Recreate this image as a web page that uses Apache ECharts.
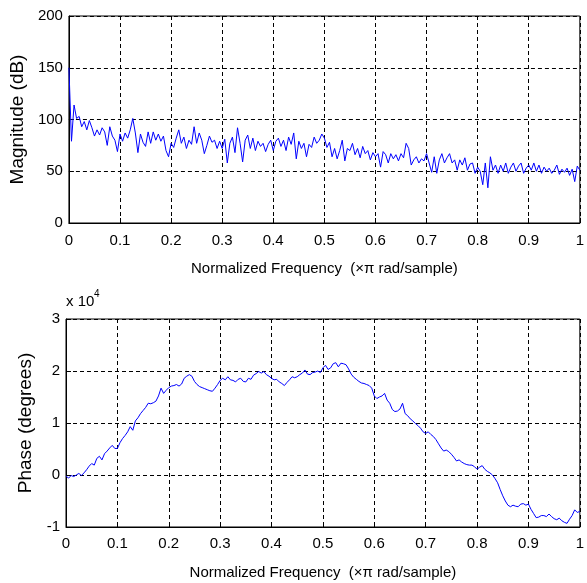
<!DOCTYPE html>
<html>
<head>
<meta charset="utf-8">
<script src="https://cdn.jsdelivr.net/npm/echarts@6/dist/echarts.min.js"></script>
<style>
html,body{margin:0;padding:0;background:#fff;}
#chart{width:587px;height:583px;}
</style>
</head>
<body>
<div id="chart"></div>
<script>
// Frequency grid: 0 .. 1 (x pi rad/sample), step 0.005
const xTickValues = [0, 0.1, 0.2, 0.3, 0.4, 0.5, 0.6, 0.7, 0.8, 0.9, 1];
const magTicks = [0, 50, 100, 150, 200];
const phaseTicks = [-1, 0, 1, 2, 3];
const xLabel = 'Normalized Frequency  (\u00d7\u03c0 rad/sample)';
const magLabel = 'Magnitude (dB)';
const phaseLabel = 'Phase (degrees)';
const phaseScaleText = 'x 10';
const phaseScaleExp = '4';

// Magnitude (dB), one value per 0.005 step
const magnitude = [
  150,79,114,101,103,93,98,90,99,92,84,90,85,92,88,75,93,84,80,69,
  86,79,87,82,90,101,87,68,86,78,74,88,77,88,80,86,79,84,70,64,
  77,73,82,90,77,83,72,80,76,93,77,87,80,67,75,84,78,80,72,79,
  72,81,58,77,83,68,92,77,59,80,85,72,82,70,79,74,77,69,76,80,
  70,79,82,74,80,70,83,76,87,62,79,72,77,64,76,73,83,77,80,86,
  82,73,78,64,72,62,70,80,60,72,70,77,66,72,63,74,67,70,61,68,
  64,67,54,69,66,58,67,62,66,60,67,63,77,72,56,61,64,58,62,60,
  67,58,49,64,48,61,67,58,63,67,58,61,51,61,56,63,51,57,58,48,
  54,50,37,58,34,64,51,56,48,56,50,58,48,54,58,50,55,58,48,53,
  56,51,58,50,56,48,54,50,53,48,51,56,47,52,49,53,46,52,40,55,
  51
];

// Phase (x 10^4 degrees), one value per 0.005 step
const phase = [
  -0.02,-0.06,-0.01,-0.03,0.00,0.03,-0.01,0.04,0.10,0.17,0.22,0.19,0.32,0.36,0.29,0.41,0.46,0.52,0.57,0.51,
  0.51,0.62,0.70,0.76,0.83,0.93,0.86,1.04,1.10,1.18,1.24,1.30,1.38,1.37,1.39,1.42,1.52,1.67,1.57,1.63,
  1.68,1.71,1.72,1.74,1.71,1.75,1.86,1.90,1.93,1.90,1.80,1.74,1.70,1.68,1.66,1.64,1.62,1.61,1.67,1.74,
  1.82,1.86,1.83,1.89,1.83,1.82,1.79,1.84,1.86,1.80,1.79,1.86,1.84,1.92,1.95,1.99,1.96,1.99,1.93,1.90,
  1.86,1.83,1.84,1.79,1.76,1.72,1.78,1.83,1.89,1.87,1.89,1.93,1.96,2.02,1.94,1.93,1.97,1.98,2.00,1.97,
  2.06,2.11,2.03,2.06,2.14,2.16,2.08,2.15,2.14,2.12,2.04,1.94,1.88,1.84,1.80,1.77,1.76,1.74,1.72,1.67,
  1.52,1.47,1.50,1.52,1.57,1.44,1.38,1.26,1.22,1.23,1.27,1.38,1.18,1.14,1.08,1.04,0.99,0.95,0.90,0.83,
  0.80,0.83,0.78,0.74,0.68,0.60,0.52,0.46,0.48,0.45,0.40,0.34,0.27,0.29,0.25,0.22,0.20,0.19,0.19,0.16,
  0.11,0.15,0.18,0.11,0.07,0.04,0.00,-0.07,-0.15,-0.28,-0.40,-0.50,-0.58,-0.61,-0.58,-0.60,-0.61,-0.56,-0.55,-0.58,
  -0.56,-0.66,-0.74,-0.82,-0.81,-0.78,-0.78,-0.80,-0.75,-0.80,-0.84,-0.86,-0.83,-0.88,-0.91,-0.93,-0.85,-0.78,-0.67,-0.72,
  -0.70
];

const FONT = '"Liberation Sans", Arial, sans-serif';
const freq = magnitude.map((_, i) => i / (magnitude.length - 1));
const magData = magnitude.map((v, i) => [freq[i], v]);
const phaseData = phase.map((v, i) => [freq[i], v]);

function xAxisCfg(gridIndex, nameGap, labelMargin) {
  return {
    type: 'value', gridIndex,
    min: xTickValues[0], max: xTickValues[xTickValues.length - 1], interval: 0.1,
    name: xLabel, nameLocation: 'middle', nameGap,
    nameTextStyle: { color: '#000', fontFamily: FONT, fontSize: 15 },
    axisLine: { show: true, onZero: false, lineStyle: { color: '#000', width: 1 } },
    axisTick: { show: true, inside: true, length: 5, lineStyle: { color: '#000' } },
    axisLabel: { color: '#000', fontFamily: FONT, fontSize: 15, margin: labelMargin, showMaxLabel: true, showMinLabel: true },
    splitLine: { show: true, lineStyle: { color: '#000', type: [4, 3], width: 1 } }
  };
}
function yAxisCfg(gridIndex, ticks, name, nameGap) {
  return {
    type: 'value', gridIndex,
    min: ticks[0], max: ticks[ticks.length - 1], interval: ticks[1] - ticks[0],
    name, nameLocation: 'middle', nameGap,
    nameTextStyle: { color: '#000', fontFamily: FONT, fontSize: 19 },
    axisLine: { show: true, onZero: false, lineStyle: { color: '#000', width: 1 } },
    axisTick: { show: true, inside: true, length: 5, lineStyle: { color: '#000' } },
    axisLabel: { color: '#000', fontFamily: FONT, fontSize: 15, margin: 6 },
    splitLine: { show: true, lineStyle: { color: '#000', type: [4, 3], width: 1 } }
  };
}

const chart = echarts.init(document.getElementById('chart'), null, { renderer: 'canvas' });
chart.setOption({
  animation: false,
  backgroundColor: '#fff',
  grid: [
    { left: 66, top: 16, right: 1, height: 207, show: true, borderColor: '#000', borderWidth: 1, containLabel: false },
    { left: 66, top: 319, right: 1, height: 208, show: true, borderColor: '#000', borderWidth: 1, containLabel: false }
  ],
  xAxis: [xAxisCfg(0, 38, 10), xAxisCfg(1, 38, 9)],
  yAxis: [yAxisCfg(0, magTicks, magLabel, 40), yAxisCfg(1, phaseTicks, phaseLabel, 28)],
  graphic: [
    { type: 'text', left: 66, top: 294, style: { text: phaseScaleText, font: '15px ' + FONT, fill: '#000' } },
    { type: 'text', left: 94, top: 289, style: { text: phaseScaleExp, font: '10px ' + FONT, fill: '#000' } }
  ],
  series: [
    { type: 'line', xAxisIndex: 0, yAxisIndex: 0, data: magData, showSymbol: false, symbol: 'none',
      lineStyle: { color: '#0000ff', width: 1 }, itemStyle: { color: '#0000ff' } },
    { type: 'line', xAxisIndex: 1, yAxisIndex: 1, data: phaseData, showSymbol: false, symbol: 'none',
      lineStyle: { color: '#0000ff', width: 1 }, itemStyle: { color: '#0000ff' } }
  ]
});
</script>
</body>
</html>
